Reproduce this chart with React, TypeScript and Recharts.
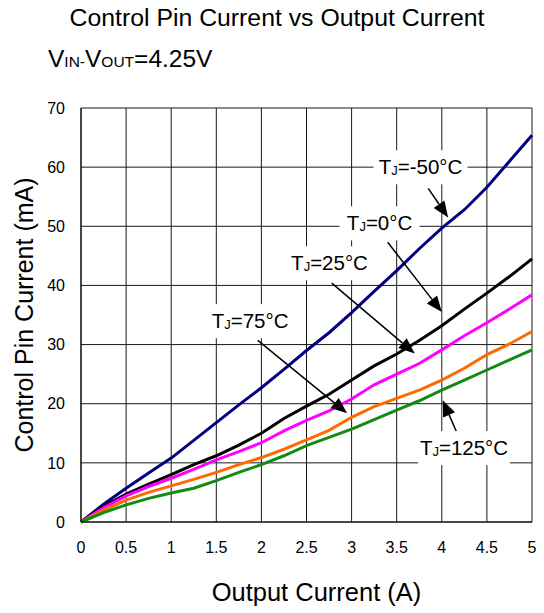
import React from 'react';
import {
  LineChart,
  Line,
  XAxis,
  YAxis,
  CartesianGrid,
  ReferenceLine,
  ReferenceDot,
  Label,
} from 'recharts';

// ---- data ----
const outputCurrentA = [0, 0.25, 0.5, 0.75, 1, 1.25, 1.5, 1.75, 2, 2.25, 2.5, 2.75, 3, 3.25, 3.5, 3.75, 4, 4.25, 4.5, 4.75, 5];
const tjMinus50 = [0, 3.0, 5.7, 8.3, 10.8, 13.8, 16.8, 19.8, 22.7, 25.8, 29.0, 32.0, 35.4, 39.0, 42.5, 46.2, 49.7, 52.8, 56.6, 61.0, 65.4];
const tj0 = [0, 2.6, 4.7, 6.4, 8.0, 9.7, 11.2, 13.0, 15.0, 17.5, 19.6, 21.6, 24.0, 26.4, 28.4, 30.7, 33.2, 36.0, 38.7, 41.5, 44.5];
const tj25 = [0, 2.4, 4.4, 6.0, 7.4, 8.9, 10.5, 11.9, 13.4, 15.4, 17.2, 18.8, 20.8, 23.2, 25.0, 26.8, 29.1, 31.5, 33.7, 36.0, 38.4];
const tj75 = [0, 2.0, 3.7, 5.0, 6.1, 7.2, 8.4, 9.7, 10.9, 12.3, 13.9, 15.5, 17.7, 19.5, 20.9, 22.3, 24.0, 26.0, 28.3, 30.1, 32.2];
const tj125 = [0, 1.6, 2.9, 4.0, 4.9, 5.7, 7.0, 8.4, 9.7, 11.2, 12.9, 14.3, 15.7, 17.3, 18.9, 20.5, 22.3, 24.0, 25.7, 27.4, 29.1];

const xTicks = [0, 0.5, 1, 1.5, 2, 2.5, 3, 3.5, 4, 4.5, 5];
const yTicks = [0, 10, 20, 30, 40, 50, 60, 70];

const labelTemps = ['-50°C', '0°C', '25°C', '75°C', '125°C'];
const labelAnchorX = [3.764, 3.31, 2.755, 1.874, 4.246];
const labelAnchorY = [59.97, 50.5, 43.75, 33.95, 12.5];

const arrowFromX = [3.85, 3.40, 2.78, 1.96, 4.17];
const arrowFromY = [56.4, 47.3, 40.4, 30.7, 15.0];
const arrowToX = [4.07, 4.0, 3.70, 2.95, 4.01];
const arrowToY = [51.5, 35.5, 28.5, 18.4, 20.6];

const rows = outputCurrentA.map((x, i) => ({
  x,
  m50: tjMinus50[i],
  t0: tj0[i],
  t25: tj25[i],
  t75: tj75[i],
  t125: tj125[i],
}));

const FONT = '"Liberation Sans", Arial, Helvetica, sans-serif';
const boxWidths = [94, 80, 84, 84, 92];

function AnnotationLabel(props: any) {
  const { cx, cy, temp, boxW } = props;
  if (cx == null || cy == null) return null;
  return (
    <g>
      <rect x={cx - boxW / 2} y={cy - 17} width={boxW} height={34} fill="#ffffff" />
      <text x={cx} y={cy + 7} textAnchor="middle" fontSize={20.5} fontFamily={FONT} fill="#000">
        <tspan>T</tspan>
        <tspan fontSize={13} dy={1}>J</tspan>
        <tspan dy={-1}>{'=' + temp}</tspan>
      </text>
    </g>
  );
}

function ArrowShape(props: any) {
  const { x1, y1, x2, y2 } = props;
  if ([x1, y1, x2, y2].some((v) => v == null || isNaN(v))) return null;
  const dx = x2 - x1;
  const dy = y2 - y1;
  const len = Math.hypot(dx, dy) || 1;
  const ux = dx / len;
  const uy = dy / len;
  const headL = 16;
  const headW = 6.5;
  const bx = x2 - ux * headL;
  const by = y2 - uy * headL;
  const px = -uy;
  const py = ux;
  return (
    <g>
      <line x1={x1} y1={y1} x2={bx} y2={by} stroke="#000" strokeWidth={1.5} />
      <polygon
        points={`${x2},${y2} ${bx + px * headW},${by + py * headW} ${bx - px * headW},${by - py * headW}`}
        fill="#000"
      />
    </g>
  );
}

export default function App() {
  return (
    <div style={{ position: 'absolute', left: 0, top: 0, width: 544, height: 613, background: '#fff', fontFamily: FONT }}>
      <svg width={544} height={100} style={{ position: 'absolute', left: 0, top: 0 }}>
        <text x={277} y={26} textAnchor="middle" fontSize={24.8} fontFamily={FONT} fill="#000">
          Control Pin Current vs Output Current
        </text>
        <text x={48} y={67} fontSize={24.5} fontFamily={FONT} fill="#000">
          <tspan>V</tspan>
          <tspan fontSize={15.5}>IN-</tspan>
          <tspan>V</tspan>
          <tspan fontSize={15.5}>OUT</tspan>
          <tspan>=4.25V</tspan>
        </text>
      </svg>
      <div style={{ position: 'absolute', left: 0, top: 0 }}>
        <LineChart
          width={544}
          height={613}
          data={rows}
          margin={{ top: 108, right: 12, bottom: 0, left: 0 }}
          style={{ fontFamily: FONT }}
        >
          <CartesianGrid stroke="#1a1a1a" strokeWidth={1} />
          <XAxis
            dataKey="x"
            type="number"
            domain={[0, 5]}
            ticks={xTicks}
            height={91}
            tickLine={false}
            axisLine={{ stroke: '#000' }}
            tickMargin={14}
            tick={{ fontSize: 16, fill: '#000', fontFamily: FONT }}
          >
            <Label value="Output Current (A)" position="center" dx={10} dy={24} fontSize={25.5} fill="#000" fontFamily={FONT} />
          </XAxis>
          <YAxis
            type="number"
            domain={[0, 70]}
            ticks={yTicks}
            width={81}
            tickLine={false}
            axisLine={{ stroke: '#000' }}
            tickMargin={10}
            tick={{ fontSize: 16, fill: '#000', fontFamily: FONT }}
          >
            <Label value="Control Pin Current (mA)" angle={-90} position="center" dx={-16} fontSize={25} fill="#000" fontFamily={FONT} />
          </YAxis>
          <Line dataKey="m50" name="TJ=-50°C" stroke="#000080" strokeWidth={3} dot={false} type="linear" isAnimationActive={false} />
          <Line dataKey="t0" name="TJ=0°C" stroke="#000000" strokeWidth={3} dot={false} type="linear" isAnimationActive={false} />
          <Line dataKey="t25" name="TJ=25°C" stroke="#ff00ff" strokeWidth={3} dot={false} type="linear" isAnimationActive={false} />
          <Line dataKey="t75" name="TJ=75°C" stroke="#ff6a00" strokeWidth={3} dot={false} type="linear" isAnimationActive={false} />
          <Line dataKey="t125" name="TJ=125°C" stroke="#138a13" strokeWidth={3} dot={false} type="linear" isAnimationActive={false} />
          {labelTemps.map((t, i) => (
            <ReferenceDot
              key={'lbl' + i}
              x={labelAnchorX[i]}
              y={labelAnchorY[i]}
              r={1}
              shape={(p: any) => <AnnotationLabel {...p} temp={t} boxW={boxWidths[i]} />}
            />
          ))}
          {labelTemps.map((t, i) => (
            <ReferenceLine
              key={'arr' + i}
              segment={[
                { x: arrowFromX[i], y: arrowFromY[i] },
                { x: arrowToX[i], y: arrowToY[i] },
              ]}
              shape={(p: any) => <ArrowShape {...p} />}
            />
          ))}
        </LineChart>
      </div>
    </div>
  );
}
